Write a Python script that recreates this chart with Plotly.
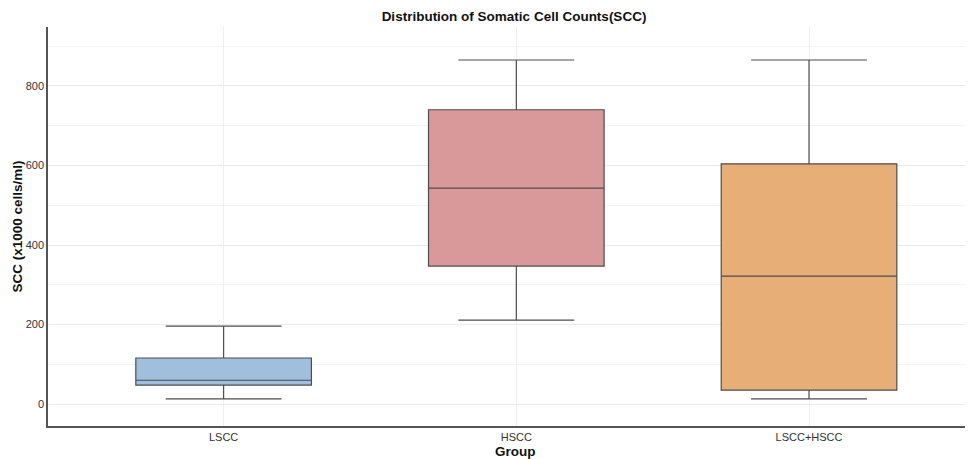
import plotly.graph_objects as go

groups = ["LSCC", "HSCC", "LSCC+HSCC"]
lower_whisker = [13, 211, 13]
q1_vals = [48, 347, 35]
median_vals = [60, 543, 322]
q3_vals = [116, 740, 604]
upper_whisker = [196, 865, 865]
colors = ["#9fbfdc", "#d9999b", "#e8ae78"]

fig = go.Figure()
for i, g in enumerate(groups):
    fig.add_trace(go.Box(
        x=[g], q1=[q1_vals[i]], median=[median_vals[i]], q3=[q3_vals[i]],
        lowerfence=[lower_whisker[i]], upperfence=[upper_whisker[i]],
        fillcolor=colors[i], line=dict(color="#4d4d4d", width=1.2),
        width=0.6, whiskerwidth=0.66, boxpoints=False, showlegend=False,
        hoverinfo="skip",
    ))

# The page body has an 8px margin, so the figure is sized/offset to compensate.
fig.update_layout(
    width=965, height=451,
    margin=dict(l=40, r=3, t=19, b=33, autoexpand=False),
    plot_bgcolor="white", paper_bgcolor="white",
    font=dict(family="Liberation Sans, Arial", size=12, color="#222"),
    title=dict(text="<b>Distribution of Somatic Cell Counts(SCC)</b>",
               x=506 / 965, xanchor="center", y=1 - 8 / 451, yanchor="middle",
               font=dict(size=13.5, color="#111")),
    annotations=[
        dict(text="<b>SCC (x1000 cells/ml)</b>", xref="paper", yref="paper",
             x=-31 / 922, y=0.5, xanchor="center", yanchor="middle",
             textangle=-90, showarrow=False, font=dict(size=13.5, color="#111")),
        dict(text="<b>Group</b>", xref="paper", yref="paper",
             x=(515 - 48) / 922, y=-25 / 399, xanchor="center", yanchor="middle",
             showarrow=False, font=dict(size=13.5, color="#111")),
    ],
)
fig.update_xaxes(
    range=[-0.6, 2.55], showline=True, linecolor="#555", linewidth=1.5,
    showgrid=True, gridcolor="#efefef", gridwidth=1, automargin=False,
    ticks="", tickfont=dict(size=11, color="#333"),
)
fig.update_yaxes(
    range=[-55, 948], tickvals=[0, 200, 400, 600, 800],
    showline=True, linecolor="#555", linewidth=1.5, automargin=False,
    showgrid=True, gridcolor="#ebebeb", gridwidth=1,
    minor=dict(tickvals=[100, 300, 500, 700, 900], showgrid=True, gridcolor="#f3f3f3", gridwidth=1),
    zeroline=False, ticks="", tickfont=dict(size=11, color="#333"),
)

fig.write_html("out.html")
